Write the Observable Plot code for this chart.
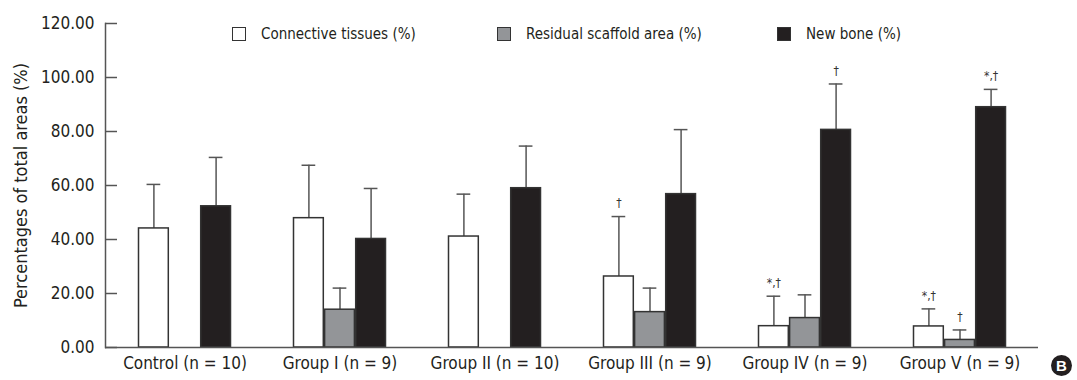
<!DOCTYPE html>
<html>
<head>
<meta charset="utf-8">
<script src="https://cdn.jsdelivr.net/npm/d3@7"></script>
<script src="https://cdn.jsdelivr.net/npm/@observablehq/plot@0.6"></script>
<style>
  html, body { margin: 0; padding: 0; background: #fff; }
  #wrap { position: relative; width: 1077px; height: 380px; font-family: "Liberation Sans Narrow", "DejaVu Sans Condensed", "Liberation Sans", sans-serif; color: #231f20; }
  .leg { position: absolute; top: 25px; display: flex; align-items: center; font-size: 15px; white-space: nowrap; }
  .sw { width: 12px; height: 12px; border: 1px solid #333; margin-right: 15px; box-sizing: content-box; }
  #badge { position: absolute; left: 1051px; top: 355px; width: 21px; height: 21px; border-radius: 50%; background: #231f20; color: #fff; font-family: "Liberation Sans", sans-serif; font-weight: bold; font-size: 15px; line-height: 21px; text-align: center; }
</style>
</head>
<body>
<div id="wrap"></div>
<script>
const groups = ["Control (n = 10)", "Group I (n = 9)", "Group II (n = 10)", "Group III (n = 9)", "Group IV (n = 9)", "Group V (n = 9)"];
const series = ["Connective tissues (%)", "Residual scaffold area (%)", "New bone (%)"];
const seriesColors = ["#ffffff", "#939598", "#231f20"];
const connective = [44.1, 47.9, 41.1, 26.3, 7.9, 7.8];
const connectiveUpper = [60.4, 67.5, 56.8, 48.5, 19.0, 14.3];
const scaffold = [null, 14.0, null, 13.1, 10.9, 2.8];
const scaffoldUpper = [null, 22.0, null, 22.0, 19.5, 6.5];
const newBone = [52.3, 40.2, 59.0, 56.8, 80.6, 89.0];
const newBoneUpper = [70.4, 58.9, 74.6, 80.7, 97.6, 95.6];
const connectiveSig = ["", "", "", "†", "*,†", "*,†"];
const scaffoldSig = ["", "", "", "", "", "†"];
const newBoneSig = ["", "", "", "", "†", "*,†"];
const yTicks = [0, 20, 40, 60, 80, 100, 120];

const W = 1077, H = 380;
const mL = 105, mR = 39, mT = 23, mB = 33;
const padIn = 0.4, padOut = 0.2;
const step = (W - mL - mR) / (groups.length - padIn + 2 * padOut);
const bw = step * (1 - padIn);
const w3 = bw / 3;
const capW = 14;

const values = [connective, scaffold, newBone];
const uppers = [connectiveUpper, scaffoldUpper, newBoneUpper];
const sigs = [connectiveSig, scaffoldSig, newBoneSig];

const marks = [];
series.forEach((s, i) => {
  const rows = groups.map((g, j) => ({group: g, value: values[i][j], upper: uppers[i][j], sig: sigs[i][j]}))
    .filter(d => d.value != null);
  const dx = (i - 1) * w3;
  marks.push(Plot.ruleX(rows, {x: "group", y1: "value", y2: "upper", dx, stroke: "#555", strokeWidth: 1.5}));
  marks.push(Plot.tickY(rows, {x: "group", y: "upper", insetLeft: i * w3 + (w3 - capW) / 2, insetRight: (2 - i) * w3 + (w3 - capW) / 2, stroke: "#555", strokeWidth: 1.5}));
  marks.push(Plot.barY(rows, {x: "group", y: "value", insetLeft: i * w3 + 0.5, insetRight: (2 - i) * w3 + 0.5, fill: seriesColors[i], stroke: "#333", strokeWidth: 1.5}));
  marks.push(Plot.text(rows.filter(d => d.sig), {x: "group", y: "upper", text: "sig", dx, dy: -13, fontSize: 12, fill: "#333"}));
});

const chart = Plot.plot({
  width: W, height: H,
  marginLeft: mL, marginRight: mR, marginTop: mT, marginBottom: mB,
  style: {fontFamily: '"Liberation Sans Narrow", "DejaVu Sans Condensed", "Liberation Sans", sans-serif', color: "#231f20", background: "#fff"},
  x: {type: "band", domain: groups, paddingInner: padIn, paddingOuter: padOut, label: null},
  y: {domain: [0, 120], label: null},
  marks: [
    Plot.axisX({tickSize: 0, tickPadding: 9, fontSize: 17, label: null}),
    Plot.axisY({ticks: yTicks, tickFormat: d => d.toFixed(2), tickSize: -12, tickPadding: 23, fontSize: 17, label: null, stroke: "#555", strokeWidth: 1.5}),
    Plot.text(["Percentages of total areas (%)"], {frameAnchor: "left", textAnchor: "middle", lineAnchor: "middle", dx: -84, rotate: -90, fontSize: 18, fill: "#231f20"}),
    ...marks,
    Plot.frame({anchor: "left", stroke: "#555", strokeWidth: 1.5}),
    Plot.ruleY([0], {stroke: "#555", strokeWidth: 1.5})
  ]
});

const wrap = document.getElementById("wrap");
wrap.appendChild(chart);

const legendPos = [232, 497, 777];
series.forEach((s, i) => {
  const item = document.createElement("div");
  item.className = "leg";
  item.style.left = legendPos[i] + "px";
  const sw = document.createElement("span");
  sw.className = "sw";
  sw.style.background = seriesColors[i];
  item.appendChild(sw);
  const t = document.createElement("span");
  t.textContent = s;
  item.appendChild(t);
  wrap.appendChild(item);
});
const badge = document.createElement("div");
badge.id = "badge";
badge.textContent = "B";
wrap.appendChild(badge);
</script>
</body>
</html>
